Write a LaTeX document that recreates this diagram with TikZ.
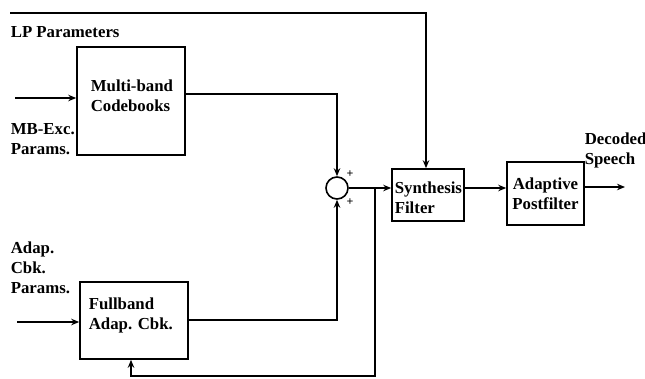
\documentclass[tikz,border=0pt]{standalone}
\usepackage{fontspec}
\setmainfont{Liberation Serif}
\usetikzlibrary{arrows.meta}
\begin{document}
\begin{tikzpicture}[x=1pt,y=-1pt,
  line width=1.6pt,
  box/.style={draw,line width=1.6pt,inner sep=0pt},
  txt/.style={font=\fontsize{16.8}{20}\selectfont\bfseries,inner sep=0pt,align=left},
  arr/.style={-{Stealth[length=8pt,width=6.5pt]}},
  plus/.style={font=\fontsize{12}{12}\selectfont\bfseries,inner sep=0pt},
  sumc/.style={draw,circle,line width=1.6pt,minimum size=22pt,inner sep=0pt}]
\useasboundingbox (0,0) rectangle (645,378);
% boxes
\node[box,minimum width=108pt,minimum height=108pt] (mb) at (131,101) {};
\node[box,minimum width=108pt,minimum height=77pt] (fb) at (134,320.5) {};
\node[box,minimum width=72pt,minimum height=52pt] (syn) at (428,195) {};
\node[box,minimum width=77pt,minimum height=63pt] (ap) at (545.5,193.5) {};
\node[sumc] (sum) at (337,188) {};
% box texts
\node[txt,anchor=west] (mbt) at (90,96) {Multi-band\\Codebooks};
\node[txt,anchor=west] (fbt) at (88,315) {Fullband\\Adap. Cbk.};
\node[txt,anchor=west] (synt) at (394,198) {Synthesis\\Filter};
\node[txt,align=center] (apt) at (545.5,194) {Adaptive\\Postfilter};
% free labels
\node[txt,anchor=west] (lp) at (10,32) {LP Parameters};
\node[txt,anchor=west] (mbx) at (10,139) {MB-Exc.\\Params.};
\node[txt,anchor=west] (adx) at (10,268) {Adap.\\Cbk.\\Params.};
\node[txt,anchor=west] (dec) at (584,150) {Decoded\\Speech};
\node[plus] (p1) at (350,174) {+};
\node[plus] (p2) at (350,202) {+};
% coordinates
\coordinate (lpin) at (10,13);
\coordinate (mbin) at (15,98);
\coordinate (fbin) at (17,322);
\coordinate (out) at (625,187);
\coordinate (jn) at (375,188);
% connectors
\draw[arr] (lpin) -- (426,13) -- (syn.north -| 426,0);
\draw[arr] (mbin) -- (mbin -| mb.west);
\draw[arr] (fbin) -- (fbin -| fb.west);
\draw[arr] (mb.east |- 0,94) -- (337,94) -- (sum.north);
\draw[arr] (fb.east |- 0,320) -- (337,320) -- (sum.south);
\draw[arr] (sum.east) -- (sum.east -| syn.west);
\draw[arr] (jn) -- (375,376) -- (131,376) -- (fb.south -| 131,0);
\draw[arr] (syn.east |- 0,188) -- (ap.west |- 0,188);
\draw[arr] (ap.east |- out) -- (out);
\end{tikzpicture}
\end{document}
